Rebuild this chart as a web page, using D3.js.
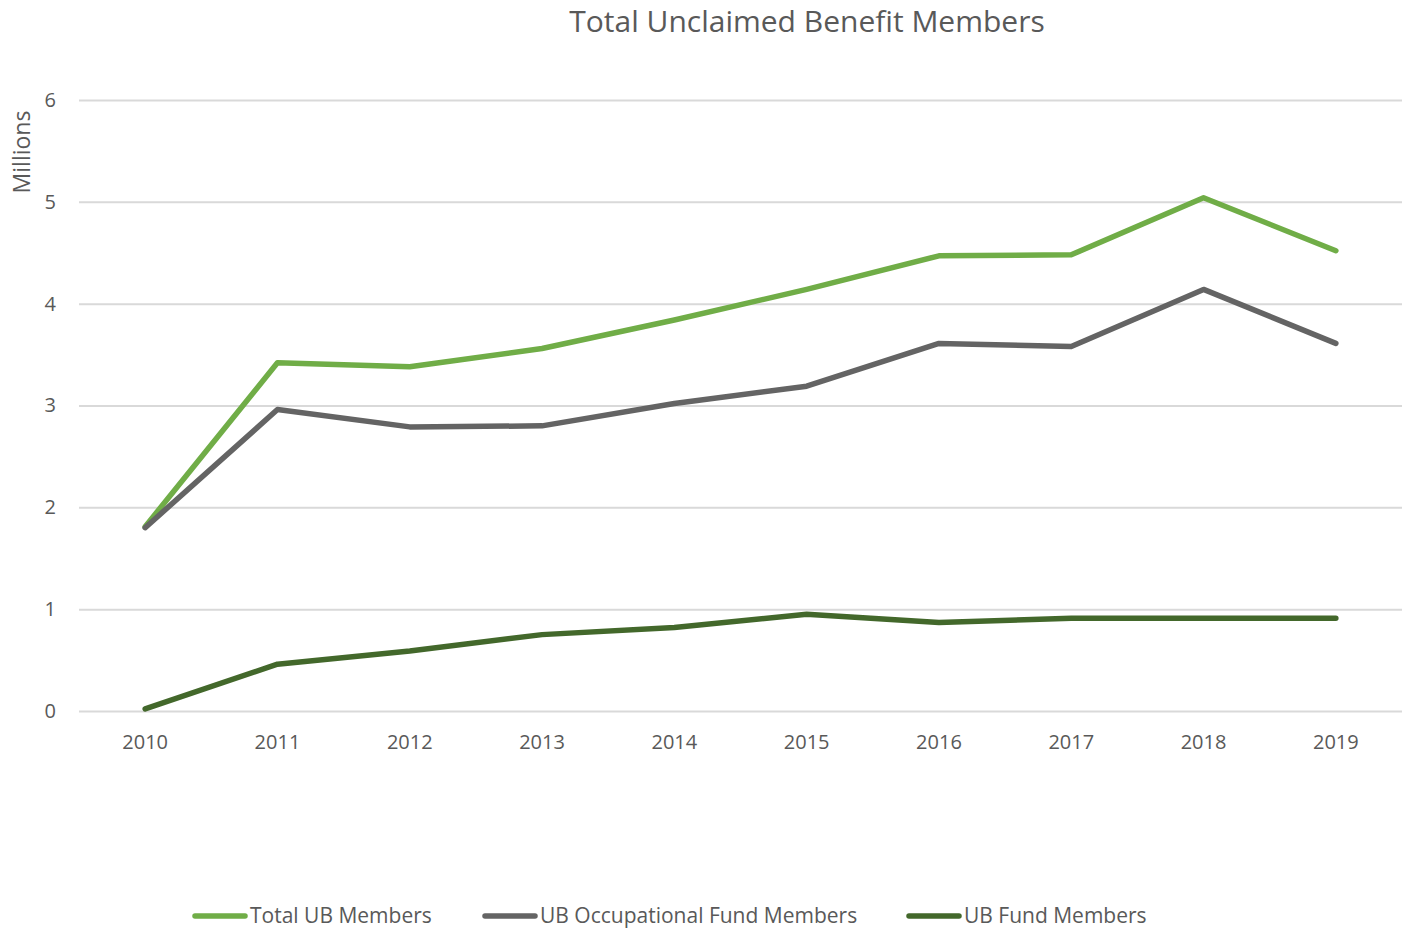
<!DOCTYPE html>
<html>
<head>
<meta charset="utf-8">
<script src="https://cdn.jsdelivr.net/npm/d3@7"></script>
<style>
  body { margin: 0; background: #fff; }
  text { font-family: "Open Sans", "Noto Sans", sans-serif; fill: #595959; }
</style>
</head>
<body>
<div class="chart-container"></div>
<script>
// Data
const years = ['2010', '2011', '2012', '2013', '2014', '2015', '2016', '2017', '2018', '2019'];
const totalUB = [1.81, 3.42, 3.38, 3.56, 3.84, 4.14, 4.47, 4.48, 5.04, 4.52];
const occupationalUB = [1.80, 2.96, 2.79, 2.80, 3.02, 3.19, 3.61, 3.58, 4.14, 3.61];
const fundUB = [0.02, 0.46, 0.59, 0.75, 0.82, 0.95, 0.87, 0.91, 0.91, 0.91];
const yTicks = [0, 1, 2, 3, 4, 5, 6];

const series = [
    {name: 'Total UB Members', values: totalUB, color: '#70ad47'},
    {name: 'UB Occupational Fund Members', values: occupationalUB, color: '#646464'},
    {name: 'UB Fund Members', values: fundUB, color: '#43682b'}
];

// Margin convention
const W = 1402, H = 933;
const margin = {top: 100, right: 0, bottom: 222, left: 79};
const width = W - margin.left - margin.right;
const height = H - margin.top - margin.bottom;

// Scales
const xScale = d3.scaleBand().domain(years).range([0, width]);
const yScale = d3.scaleLinear().domain([0, 6]).range([height, 0]);

const svgRoot = d3.select('.chart-container')
    .append('svg')
    .attr('width', W)
    .attr('height', H);

const svg = svgRoot.append('g')
    .attr('transform', `translate(${margin.left}, ${margin.top})`);

// Title
svgRoot.append('text')
    .attr('x', 807)
    .attr('y', 32)
    .attr('text-anchor', 'middle')
    .style('font-size', '30px')
    .text('Total Unclaimed Benefit Members');

// Axis title
svgRoot.append('text')
    .attr('transform', 'translate(30, 152) rotate(-90)')
    .attr('text-anchor', 'middle')
    .style('font-size', '23px')
    .text('Millions');

// Gridlines + y labels
const yAxis = d3.axisLeft(yScale)
    .tickValues(yTicks)
    .tickFormat(d3.format('d'))
    .tickSizeInner(-width)
    .tickSizeOuter(0)
    .tickPadding(23);

const yAxisDraw = svg.append('g')
    .attr('class', 'y axis')
    .call(yAxis);

yAxisDraw.select('.domain').remove();
yAxisDraw.selectAll('line').attr('stroke', '#d9d9d9').attr('stroke-width', 2);
yAxisDraw.selectAll('text')
    .style('font-size', '20px')
    .attr('fill', '#595959');

// X labels
const xAxis = d3.axisBottom(xScale).tickSize(0).tickPadding(24);
const xAxisDraw = svg.append('g')
    .attr('class', 'x axis')
    .attr('transform', `translate(0, ${height})`)
    .call(xAxis);
xAxisDraw.select('.domain').remove();
xAxisDraw.selectAll('text')
    .style('font-size', '20px')
    .attr('fill', '#595959');

// Lines
const line = d3.line()
    .x((d, i) => xScale(years[i]) + xScale.bandwidth() / 2)
    .y(d => yScale(d));

svg.append('g')
    .selectAll('path')
    .data(series)
    .enter()
    .append('path')
    .attr('d', d => line(d.values))
    .attr('fill', 'none')
    .attr('stroke', d => d.color)
    .attr('stroke-width', 5.5)
    .attr('stroke-linejoin', 'round')
    .attr('stroke-linecap', 'round');

// Legend
const legendX = [193, 483, 907];
const legend = svgRoot.append('g')
    .selectAll('g')
    .data(series)
    .enter()
    .append('g')
    .attr('transform', (d, i) => `translate(${legendX[i]}, 916)`);

legend.append('line')
    .attr('x1', 2).attr('x2', 52)
    .attr('stroke', d => d.color)
    .attr('stroke-width', 5.5)
    .attr('stroke-linecap', 'round');

legend.append('text')
    .attr('x', 57)
    .attr('dy', '0.35em')
    .style('font-size', '21px')
    .text(d => d.name);
</script>
</body>
</html>
